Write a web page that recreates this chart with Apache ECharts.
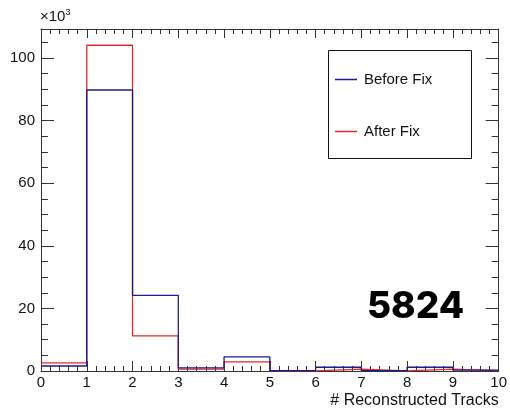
<!DOCTYPE html>
<html>
<head>
<meta charset="utf-8">
<script src="https://cdn.jsdelivr.net/npm/echarts@6/dist/echarts.min.js"></script>
<style>html,body{margin:0;padding:0;background:#fff}#c{width:510px;height:412px}</style>
</head>
<body>
<div id="c"></div>
<script>
// Bin lower edges (number of reconstructed tracks)
var binEdges = [0, 1, 2, 3, 4, 5, 6, 7, 8, 9, 10];
// Counts in units of 10^3
var beforeFix = [1.6, 89.8, 24.2, 1.0, 4.5, 0.1, 1.2, 0.1, 1.2, 0.3];
var afterFix  = [2.6, 104.1, 11.2, 0.6, 2.9, 0.05, 0.6, 0.05, 0.6, 0.1];
var xTickLabels = ['0','1','2','3','4','5','6','7','8','9','10'];
var yTickLabels = ['0','20','40','60','80','100'];
var seriesNames = ['Before Fix', 'After Fix'];
var annotation = '5824';

function stepData(vals) {
  var d = [];
  for (var i = 0; i < vals.length; i++) d.push([binEdges[i], vals[i]]);
  d.push([binEdges[vals.length], vals[vals.length - 1]]);
  return d;
}

var chart = echarts.init(document.getElementById('c'), null, {renderer: 'canvas'});
var FONT = '"Liberation Sans", Arial, Helvetica, sans-serif';
var AX = '#333';
var yMax = 109.3;

function xAx(pos, labels) {
  return {
    type: 'value', position: pos, min: 0, max: 10, interval: 1,
    axisLine: {show: true, onZero: false, lineStyle: {color: AX, width: 1}},
    axisTick: {show: true, inside: true, length: pos === 'bottom' ? 10 : 9, lineStyle: {color: AX}},
    minorTick: {show: true, splitNumber: 5, length: 5, lineStyle: {color: AX}},
    axisLabel: {show: labels, margin: 4, fontFamily: FONT, fontSize: 15, color: '#111',
      formatter: function (v) { var i = xTickLabels.indexOf(String(v)); return i >= 0 ? xTickLabels[i] : ''; }},
    splitLine: {show: false},
    name: labels ? '# Reconstructed Tracks' : '',
    nameLocation: 'end', nameGap: 0,
    nameTextStyle: {fontFamily: FONT, fontSize: 16, color: '#111', align: 'right', verticalAlign: 'top', padding: [22, 0, 0, 0]}
  };
}
function yAx(pos, labels) {
  return {
    type: 'value', position: pos, min: 0, max: yMax, interval: 20,
    axisLine: {show: true, onZero: false, lineStyle: {color: AX, width: 1}},
    axisTick: {show: true, inside: true, length: 13, lineStyle: {color: AX}},
    minorTick: {show: true, splitNumber: 4, length: 7, lineStyle: {color: AX}},
    axisLabel: {show: labels, margin: 6, fontFamily: FONT, fontSize: 15, color: '#111',
      showMaxLabel: false,
      formatter: function (v) { var i = yTickLabels.indexOf(String(v)); return i >= 0 ? yTickLabels[i] : ''; }},
    splitLine: {show: false}
  };
}

chart.setOption({
  animation: false,
  backgroundColor: '#fff',
  grid: {left: 41, right: 11, top: 29, bottom: 41, containLabel: false},
  xAxis: [xAx('bottom', true), xAx('top', false)],
  yAxis: [yAx('left', true), yAx('right', false)],
  legend: {
    show: true, orient: 'vertical', left: 330, top: 67, itemGap: 37,
    icon: 'rect', itemWidth: 22, itemHeight: 1.5,
    textStyle: {fontFamily: FONT, fontSize: 15, color: '#111', padding: [0, 0, 0, 2]},
    data: seriesNames
  },
  graphic: [
    {type: 'rect', left: 326, top: 48, shape: {width: 143, height: 108}, style: {fill: 'none', stroke: '#111', lineWidth: 1}, z: 0},
    {type: 'text', left: 367, top: 288, style: {text: annotation, fontFamily: 'Inter, "Open Sans", sans-serif', fontWeight: 800, fontSize: 37, fill: '#000'}},
    {type: 'text', left: 40, top: 8, style: {text: '×10{s|3}', fontFamily: FONT, fontSize: 15, fill: '#111',
      rich: {s: {fontSize: 9, verticalAlign: 'top', padding: [0, 0, 8, 0], fontFamily: FONT, fill: '#111'}}}}
  ],
  series: [
    {name: seriesNames[0], type: 'line', step: 'end', data: stepData(beforeFix), symbol: 'none',
      lineStyle: {color: '#1b1b8f', width: 1.3}, itemStyle: {color: '#1b1b8f'}, z: 3},
    {name: seriesNames[1], type: 'line', step: 'end', data: stepData(afterFix), symbol: 'none',
      lineStyle: {color: '#e02a2a', width: 1.3}, itemStyle: {color: '#e02a2a'}, z: 2}
  ]
});
</script>
</body>
</html>
